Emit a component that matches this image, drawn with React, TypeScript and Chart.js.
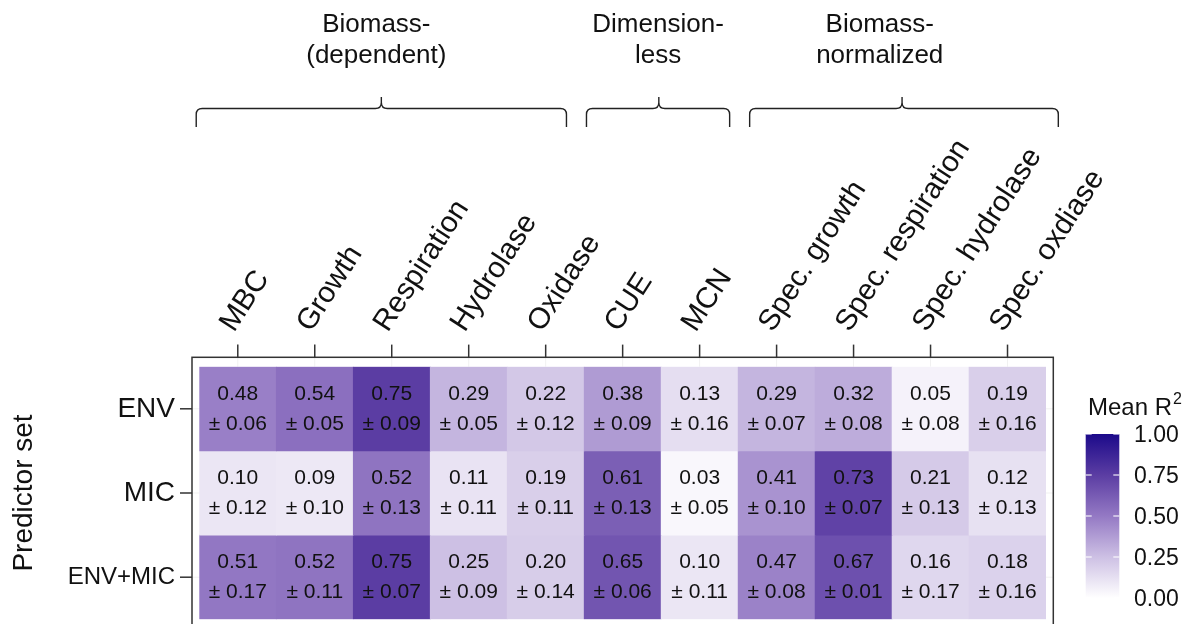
import React, { useEffect, useRef } from 'react';
import { Chart, registerables } from 'chart.js';

Chart.register(...registerables);

// ---------------- data ----------------
const columns = [
  'MBC', 'Growth', 'Respiration', 'Hydrolase', 'Oxidase', 'CUE', 'MCN',
  'Spec. growth', 'Spec. respiration', 'Spec. hydrolase', 'Spec. oxdiase',
];
const predictorSets = ['ENV', 'MIC', 'ENV+MIC'];

const envMean = [0.48, 0.54, 0.75, 0.29, 0.22, 0.38, 0.13, 0.29, 0.32, 0.05, 0.19];
const envSd = [0.06, 0.05, 0.09, 0.05, 0.12, 0.09, 0.16, 0.07, 0.08, 0.08, 0.16];
const micMean = [0.10, 0.09, 0.52, 0.11, 0.19, 0.61, 0.03, 0.41, 0.73, 0.21, 0.12];
const micSd = [0.12, 0.10, 0.13, 0.11, 0.11, 0.13, 0.05, 0.10, 0.07, 0.13, 0.13];
const envMicMean = [0.51, 0.52, 0.75, 0.25, 0.20, 0.65, 0.10, 0.47, 0.67, 0.16, 0.18];
const envMicSd = [0.17, 0.11, 0.07, 0.09, 0.14, 0.06, 0.11, 0.08, 0.01, 0.17, 0.16];

const groupTitles = [
  ['Biomass-', '(dependent)'],
  ['Dimension-', 'less'],
  ['Biomass-', 'normalized'],
];
const legendTicks = [0, 0.25, 0.5, 0.75, 1];
const legendTitle = 'Mean R';
const yTitle = 'Predictor set';

const meanRows = [envMean, micMean, envMicMean];
const sdRows = [envSd, micSd, envMicSd];

// ---------------- style / layout ----------------
const FONT = '"Liberation Sans", Arial, Helvetica, sans-serif';
const W = 1198;
const H = 624;
const AREA = { left: 199.3, top: 366.7, right: 1046, bottom: 619.3 };
const PANEL_PAD_X = 7.3;
const PANEL_PAD_Y = 9.4;
// bracket geometry in column units (annotation layout)
const BRACKETS = [
  { from: -0.54, to: 4.27, mid: 1.865, title: 1.8 },
  { from: 4.53, to: 6.39, mid: 5.47, title: 5.46 },
  { from: 6.65, to: 10.66, mid: 8.63, title: 8.34 },
];
const LEG = { x: 1085.7, w: 33.6, top: 434, bottom: 598, labelX: 1134, titleX: 1088, titleY: 415 };

const STOPS: [number, number[]][] = [
  [0, [255, 255, 255]],
  [0.25, [205, 192, 228]],
  [0.5, [148, 121, 196]],
  [0.75, [91, 61, 163]],
  [1, [28, 10, 138]],
];

function rgbFor(v: number): number[] {
  const t = Math.max(0, Math.min(1, v));
  for (let i = 0; i < STOPS.length - 1; i++) {
    const [a, ca] = STOPS[i];
    const [b, cb] = STOPS[i + 1];
    if (t <= b) {
      const f = (t - a) / (b - a);
      return ca.map((c, k) => Math.round(c + (cb[k] - c) * f));
    }
  }
  return STOPS[STOPS.length - 1][1];
}
const fillFor = (v: number) => {
  const c = rgbFor(v);
  return `rgb(${c[0]},${c[1]},${c[2]})`;
};

function line(ctx: CanvasRenderingContext2D, x1: number, y1: number, x2: number, y2: number) {
  ctx.beginPath();
  ctx.moveTo(x1, y1);
  ctx.lineTo(x2, y2);
  ctx.stroke();
}

const decorPlugin = {
  id: 'decor',
  beforeDatasetsDraw(chart: any) {
    const { ctx, chartArea: a, scales } = chart;
    const x = scales.x;
    const yl = scales.yl;
    const L = a.left - PANEL_PAD_X, R = a.right + PANEL_PAD_X;
    const T = a.top - PANEL_PAD_Y;
    ctx.save();
    ctx.strokeStyle = '#f1f1f1';
    ctx.lineWidth = 1;
    columns.forEach((_, i) => {
      const px = x.getPixelForValue(i);
      line(ctx, px, T, px, a.top);
    });
    predictorSets.forEach((_, i) => {
      const py = yl.getPixelForValue(i);
      line(ctx, L, py, R, py);
    });
    ctx.restore();
  },
  afterDatasetsDraw(chart: any) {
    const { ctx, chartArea: a, scales } = chart;
    const x = scales.x;
    const yl = scales.yl;
    const L = a.left - PANEL_PAD_X, R = a.right + PANEL_PAD_X;
    const T = a.top - PANEL_PAD_Y, B = a.bottom + PANEL_PAD_Y;
    ctx.save();

    // cell labels
    ctx.fillStyle = '#111';
    ctx.font = `21px ${FONT}`;
    ctx.textAlign = 'center';
    ctx.textBaseline = 'middle';
    chart.data.datasets.forEach((_: any, di: number) => {
      const meta = chart.getDatasetMeta(di);
      meta.data.forEach((bar: any, ci: number) => {
        const p = bar.getProps(['x', 'y', 'base'], true);
        const cy = (p.y + p.base) / 2;
        ctx.fillText(meanRows[di][ci].toFixed(2), p.x, cy - 14.5);
        ctx.fillText('\u00B1 ' + sdRows[di][ci].toFixed(2), p.x, cy + 15.5);
      });
    });

    // panel border and ticks
    ctx.strokeStyle = '#333';
    ctx.lineWidth = 1.5;
    ctx.strokeRect(L, T, R - L, B - T);
    columns.forEach((_, i) => {
      const px = x.getPixelForValue(i);
      line(ctx, px, T, px, T - 12.7);
    });
    predictorSets.forEach((_, i) => {
      const py = yl.getPixelForValue(i);
      line(ctx, L, py, L - 12, py);
    });

    // brackets
    ctx.strokeStyle = '#222';
    ctx.lineWidth = 1.4;
    const yEnd = 127, yH = 108.5, ySpike = 97, r = 6;
    BRACKETS.forEach((b) => {
      const xl = x.getPixelForValue(b.from);
      const xr = x.getPixelForValue(b.to);
      const xc = x.getPixelForValue(b.mid);
      ctx.beginPath();
      ctx.moveTo(xl, yEnd);
      ctx.lineTo(xl, yH + r);
      ctx.quadraticCurveTo(xl, yH, xl + r, yH);
      ctx.lineTo(xc - r, yH);
      ctx.quadraticCurveTo(xc, yH, xc, yH - r);
      ctx.lineTo(xc, ySpike);
      ctx.moveTo(xc, yH - r);
      ctx.quadraticCurveTo(xc, yH, xc + r, yH);
      ctx.lineTo(xr - r, yH);
      ctx.quadraticCurveTo(xr, yH, xr, yH + r);
      ctx.lineTo(xr, yEnd);
      ctx.stroke();
    });

    // group titles
    ctx.fillStyle = '#111';
    ctx.font = `26px ${FONT}`;
    ctx.textAlign = 'center';
    ctx.textBaseline = 'alphabetic';
    BRACKETS.forEach((b, gi) => {
      const tx = x.getPixelForValue(b.title);
      ctx.fillText(groupTitles[gi][0], tx, 32);
      ctx.fillText(groupTitles[gi][1], tx, 63);
    });

    // legend colour bar
    const grad = ctx.createLinearGradient(0, LEG.bottom, 0, LEG.top);
    STOPS.forEach(([s, c]) => grad.addColorStop(s, `rgb(${c[0]},${c[1]},${c[2]})`));
    ctx.fillStyle = grad;
    ctx.fillRect(LEG.x, LEG.top, LEG.w, LEG.bottom - LEG.top);
    ctx.strokeStyle = 'rgba(255,255,255,0.9)';
    ctx.lineWidth = 1.2;
    ctx.font = `23px ${FONT}`;
    ctx.textAlign = 'left';
    ctx.textBaseline = 'middle';
    legendTicks.forEach((v) => {
      const ty = LEG.bottom - v * (LEG.bottom - LEG.top);
      line(ctx, LEG.x, ty, LEG.x + 6, ty);
      line(ctx, LEG.x + LEG.w - 6, ty, LEG.x + LEG.w, ty);
    });
    ctx.fillStyle = '#111';
    legendTicks.forEach((v) => {
      const ty = LEG.bottom - v * (LEG.bottom - LEG.top);
      ctx.fillText(v.toFixed(2), LEG.labelX, ty + 2);
    });
    ctx.textBaseline = 'alphabetic';
    ctx.font = `24px ${FONT}`;
    ctx.fillText(legendTitle, LEG.titleX, LEG.titleY);
    const tw = ctx.measureText(legendTitle).width;
    ctx.font = `16px ${FONT}`;
    ctx.fillText('2', LEG.titleX + tw + 1, LEG.titleY - 11);

    ctx.restore();
  },
};

export default function App() {
  const ref = useRef<HTMLCanvasElement>(null);

  useEffect(() => {
    if (!ref.current) return;
    const datasets = predictorSets.map((name, ri) => ({
      label: name,
      data: columns.map(() => [ri, ri + 1]),
      backgroundColor: meanRows[ri].map(fillFor),
      borderWidth: 0,
      grouped: false,
      barPercentage: 1,
      categoryPercentage: 1,
      xAxisID: 'x',
      yAxisID: 'y',
    }));

    const zeroPad = (s: any) => {
      s.paddingTop = 0;
      s.paddingBottom = 0;
      s.paddingLeft = 0;
      s.paddingRight = 0;
    };

    const chart = new Chart(ref.current, {
      type: 'bar',
      data: { labels: columns, datasets: datasets as any },
      options: {
        animation: false,
        responsive: false,
        events: [],
        layout: {
          padding: { left: 0, top: 0, right: W - AREA.right, bottom: H - AREA.bottom },
        },
        plugins: {
          legend: { display: false },
          tooltip: { enabled: false },
          title: { display: false },
        },
        scales: {
          x: {
            type: 'category',
            position: 'top',
            offset: true,
            grid: { display: false, drawTicks: false },
            border: { display: false },
            ticks: {
              autoSkip: false,
              minRotation: 57,
              maxRotation: 57,
              padding: 28.5,
              labelOffset: 19,
              color: '#111',
              font: { family: FONT, size: 29.5 },
            },
            afterFit: (s: any) => {
              s.height = AREA.top;
              zeroPad(s);
            },
          },
          y: {
            type: 'linear',
            display: false,
            min: 0,
            max: 3,
            reverse: true,
          },
          yl: {
            type: 'category',
            position: 'left',
            labels: predictorSets,
            offset: true,
            grid: { display: false, drawTicks: false },
            border: { display: false },
            ticks: {
              padding: 24.3,
              color: '#111',
              font: (c: any) => ({
                family: FONT,
                size: c.tick && c.tick.label === 'ENV+MIC' ? 24 : 28,
              }),
            },
            title: {
              display: true,
              text: yTitle,
              color: '#111',
              font: { family: FONT, size: 28 },
              padding: { top: 7, bottom: 0 },
            },
            afterFit: (s: any) => {
              s.width = AREA.left;
              zeroPad(s);
            },
          },
        },
      } as any,
      plugins: [decorPlugin],
    });
    return () => chart.destroy();
  }, []);

  return (
    <div style={{ position: 'absolute', left: 0, top: 0, width: W, height: H, background: '#fff' }}>
      <canvas ref={ref} width={W} height={H} style={{ display: 'block', width: W, height: H }} />
    </div>
  );
}
